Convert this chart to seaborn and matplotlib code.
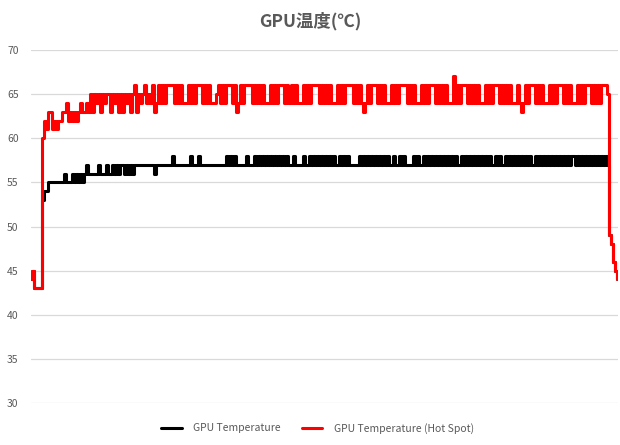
import matplotlib

matplotlib.use("Agg")
import matplotlib.pyplot as plt
import numpy as np
import pandas as pd
import seaborn as sns

# One reading every ~2 px across the chart.
GPU_WARMUP = [
    44, 45, 43, 43, 43, 43, 53, 54, 54, 55, 55, 55, 55, 55, 55, 55, 55, 56, 55, 55,
    55, 56, 55, 56, 55, 56, 55, 56, 57, 56, 56, 56, 56, 56, 57, 56, 56, 56, 57, 56,
    56, 57, 56, 57, 56, 57, 57, 56, 57, 56, 57, 56, 57, 57, 57, 57, 57, 57, 57, 57,
]
GPU_STEADY = [
    57, 57, 56, 57, 57, 57, 57, 57, 57, 57, 57, 58, 57, 57, 57, 57, 57, 57, 57, 57,
    58, 57, 57, 57, 58, 57, 57, 57, 57, 57, 57, 57, 57, 57, 57, 57, 57, 57, 58, 57,
    58, 57, 58, 57, 57, 57, 57, 57, 58, 57, 57, 57, 58, 57, 58, 57, 58, 57, 58, 57,
    58, 57, 58, 57, 58, 57, 58, 57, 58, 57, 57, 58, 57, 57, 57, 57, 58, 57, 57, 58,
    57, 58, 57, 58, 57, 58, 57, 58, 57, 58, 57, 58, 57, 57, 58, 57, 58, 57, 58, 57,
    57, 57, 57, 57, 58, 57, 58, 57, 58, 57, 58, 57, 58, 57, 58, 57, 58, 57, 58, 57,
    57, 58, 57, 57, 58, 57, 58, 57, 57, 57, 57, 58, 57, 58, 57, 57, 58, 57, 58, 57,
    58, 57, 58, 57, 58, 57, 58, 57, 58, 57, 58, 57, 58, 57, 57, 58, 57, 58, 57, 58,
    57, 58, 57, 58, 57, 58, 57, 58, 57, 58, 57, 57, 58, 57, 58, 57, 57, 58, 57, 58,
    57, 58, 57, 58, 57, 58, 57, 58, 57, 58, 57, 57, 58, 57, 58, 57, 58, 57, 58, 57,
    58, 57, 58, 57, 58, 57, 58, 57, 58, 57, 58, 58, 57, 58, 57, 58, 57, 58, 57, 58,
    57, 58, 57, 58, 57, 58, 57, 58,
]
GPU_COOLDOWN = [57, 49, 48, 46, 45, 44]

HOTSPOT_WARMUP = [
    44, 45, 43, 43, 43, 43, 60, 62, 61, 63, 63, 61, 62, 61, 62, 62, 63, 63, 64, 62,
    63, 62, 63, 62, 63, 64, 63, 63, 64, 63, 65, 63, 65, 64, 65, 63, 65, 64, 65, 65,
    63, 65, 64, 65, 63, 65, 63, 65, 64, 65, 63, 65, 66, 63, 65, 64, 65, 66, 64, 65,
]
HOTSPOT_STEADY = [
    64, 66, 63, 64, 66, 64, 66, 64, 66, 66, 66, 66, 64, 66, 64, 66, 64, 64, 64, 66,
    64, 66, 64, 66, 66, 66, 64, 66, 64, 66, 64, 64, 64, 65, 66, 64, 66, 64, 66, 66,
    66, 64, 66, 63, 64, 66, 64, 66, 66, 66, 66, 64, 66, 64, 66, 64, 66, 64, 64, 64,
    66, 64, 66, 64, 66, 66, 66, 64, 66, 64, 66, 64, 66, 64, 64, 64, 66, 64, 66, 64,
    66, 66, 66, 66, 64, 66, 64, 66, 64, 66, 64, 64, 64, 66, 64, 66, 64, 66, 66, 66,
    66, 64, 66, 64, 66, 64, 63, 64, 66, 64, 66, 66, 66, 64, 66, 64, 66, 64, 64, 64,
    66, 64, 66, 64, 66, 66, 66, 66, 64, 66, 64, 66, 64, 64, 64, 66, 64, 66, 64, 66,
    66, 66, 64, 66, 64, 66, 64, 66, 64, 64, 64, 67, 64, 66, 64, 66, 66, 66, 64, 66,
    64, 66, 64, 66, 64, 64, 64, 66, 64, 66, 64, 66, 66, 66, 64, 66, 64, 66, 64, 66,
    64, 64, 64, 66, 64, 63, 64, 66, 64, 66, 66, 66, 64, 66, 64, 66, 64, 64, 64, 66,
    64, 66, 64, 66, 66, 66, 64, 66, 64, 66, 64, 64, 64, 66, 64, 66, 64, 66, 66, 66,
    64, 66, 64, 66, 64, 66, 66, 66,
]
HOTSPOT_COOLDOWN = [65, 49, 48, 46, 45, 44]

SERIES_NAMES = ["GPU Temperature", "GPU Temperature (Hot Spot)"]
SERIES_COLORS = ["#000000", "#FF0000"]
Y_TICKS = [30, 35, 40, 45, 50, 55, 60, 65, 70]

gpu = GPU_WARMUP + GPU_STEADY + GPU_COOLDOWN
hotspot = HOTSPOT_WARMUP + HOTSPOT_STEADY + HOTSPOT_COOLDOWN
n = min(len(gpu), len(hotspot))

df = pd.concat(
    [
        pd.DataFrame({"sample": np.arange(n), "temp": gpu[:n], "series": SERIES_NAMES[0]}),
        pd.DataFrame({"sample": np.arange(n), "temp": hotspot[:n], "series": SERIES_NAMES[1]}),
    ],
    ignore_index=True,
)

sns.set_theme(style="white")
plt.rcParams["font.family"] = ["Noto Sans CJK JP", "DejaVu Sans"]

fig = plt.figure(figsize=(6.2, 4.45), dpi=100)
ax = fig.add_axes([0.05, 0.0944, 0.947, 0.7932])

# dense sensor log -> step drawing keeps the flicker blocks solid like the source
sns.lineplot(
    data=df,
    x="sample",
    y="temp",
    hue="series",
    hue_order=SERIES_NAMES,
    palette=SERIES_COLORS,
    linewidth=2.2,
    drawstyle="steps-mid",
    ax=ax,
    legend=True,
)

ax.set_xlim(0, n - 1)
ax.set_ylim(30, 70)
ax.set_yticks(Y_TICKS)
ax.set_xticks([])
ax.set_xlabel("")
ax.set_ylabel("")
ax.grid(axis="y", color="#D9D9D9", linewidth=0.9)
ax.set_axisbelow(True)
for side in ["top", "right", "left", "bottom"]:
    ax.spines[side].set_visible(False)
ax.tick_params(axis="y", length=0, pad=9, labelsize=7.5, labelcolor="#595959")

fig.suptitle("GPU温度(℃)", x=0.5, y=0.974, fontsize=12.5, fontweight="bold", color="#595959")

handles, labels = ax.get_legend_handles_labels()
ax.legend(
    handles,
    labels,
    loc="center",
    bbox_to_anchor=(0.512, 0.038),
    bbox_transform=fig.transFigure,
    ncol=2,
    frameon=False,
    fontsize=7.5,
    handlelength=2.0,
    handletextpad=1.1,
    columnspacing=2.0,
    labelcolor="#595959",
)

fig.savefig("out.png", dpi=100)
